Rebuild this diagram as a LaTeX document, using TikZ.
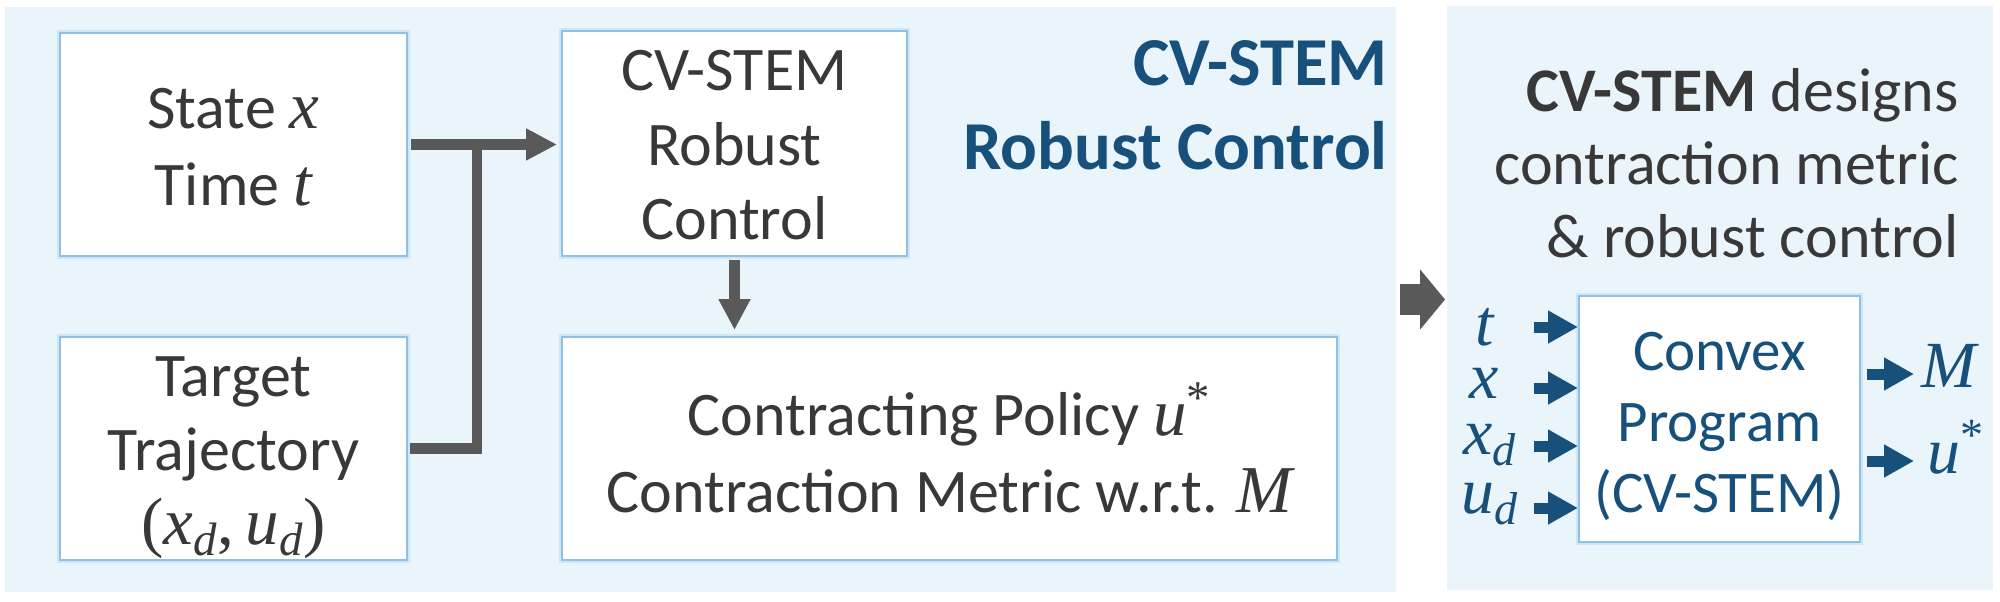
\RequirePackage{fix-cm}
\documentclass[tikz,border=0pt]{standalone}
\usepackage{fontspec}
\setmainfont{Carlito}
\newfontfamily\mvfont{Liberation Serif}[Scale=1.08]
\newcommand{\mv}[1]{{\mvfont\itshape #1}}
\newcommand{\mup}[1]{{\mvfont #1}}
\usetikzlibrary{arrows.meta}
\definecolor{panelbg}{HTML}{EAF4FB}
\definecolor{boxline}{HTML}{8FC0E8}
\definecolor{boxglow}{HTML}{CFE6F7}
\definecolor{txt}{HTML}{383838}
\definecolor{dblue}{HTML}{17507A}
\definecolor{agray}{HTML}{595959}
\tikzset{
  panel/.style={fill=panelbg, draw=none, inner sep=0pt, outer sep=0pt},
  wbox/.style={fill=white, draw=boxline, line width=1pt, inner sep=0pt, outer sep=0pt,
    preaction={draw=boxglow, line width=3pt}},
  btext/.style={align=center, inner sep=0pt, text=txt, font=\fontsize{31}{38.5}\selectfont},
  ttl/.style={anchor=base east, inner sep=0pt, text=dblue, font=\fontsize{34.3}{40}\selectfont\bfseries},
  rttl/.style={anchor=base east, inner sep=0pt, text=txt, font=\fontsize{31}{36}\selectfont},
  mlab/.style={anchor=base, inner sep=0pt, text=dblue, font=\fontsize{30.5}{35}\selectfont},
  gline/.style={draw=agray, line width=5.25pt},
  garrow/.style={gline, -{Triangle[length=15.5pt,width=15pt]}},
  barrow/.style={draw=dblue, line width=5.5pt, -{Triangle[length=15pt,width=15.5pt]}},
  bigarrow/.style={draw=agray, line width=15.5pt, -{Triangle[length=12.5pt,width=29.5pt]}}
}
\begin{document}
\begin{tikzpicture}[x=0.5pt,y=-0.5pt]
\useasboundingbox (0,0) rectangle (2000,601);
% panels
\node[panel, minimum width=695.5pt, minimum height=292.5pt] (lp) at (700.5,299.5) {};
\node[panel, minimum width=273pt, minimum height=292pt] (rp) at (1720,298) {};
% boxes
\node[wbox, minimum width=173.5pt, minimum height=111.5pt] (st) at (233.5,144.5) {};
\node[wbox, minimum width=173.5pt, minimum height=111.5pt] (tg) at (233.5,448.5) {};
\node[wbox, minimum width=172.5pt, minimum height=112.5pt] (cv) at (734.5,143.5) {};
\node[wbox, minimum width=387.5pt, minimum height=111.5pt] (cp) at (949.5,448.5) {};
\node[wbox, minimum width=140.5pt, minimum height=123pt] (cx) at (1719.5,419) {};
% box texts
\node[btext] (stt) at (233.5,147.5) {State \mv{x}\\Time \mv{t}};
\node[btext, font=\fontsize{31}{37}\selectfont] (tgt) at (233.5,458) {Target\\Trajectory\\\mup{(}\mv{x}\textsubscript{\mv{d}}\mup{,\,}\mv{u}\textsubscript{\mv{d}}\mup{)}};
\node[btext, font=\fontsize{31}{37.25}\selectfont] (cvt) at (734.5,145.5) {CV-STEM\\Robust\\Control};
\node[btext] (cpt) at (949.5,448) {Contracting Policy \mv{u}\textsuperscript{\mup{*}}\\Contraction Metric w.r.t. \mv{M}};
\node[btext, text=dblue, font=\fontsize{29.5}{35.5}\selectfont] (cxt) at (1719.5,426) {Convex\\Program\\(CV-STEM)};
% titles
\node[ttl] (t1) at (1388,85) {CV-STEM};
\node[ttl] (t2) at (1388,169) {Robust Control};
\node[rttl] (r1) at (1959,111) {\textbf{CV-STEM} designs};
\node[rttl] (r2) at (1959,184) {contraction metric};
\node[rttl] (r3) at (1959,257) {\& robust control};
% math labels
\node[mlab] (lt) at (1485,345) {\mv{t}};
\node[mlab] (lx) at (1484,398) {\mv{x}};
\node[mlab] (lxd) at (1490,454) {\mv{x}\textsubscript{\mv{d}}};
\node[mlab] (lud) at (1490,513) {\mv{u}\textsubscript{\mv{d}}};
\node[mlab, anchor=base west] (lM) at (1921,387) {\mv{M}};
\node[mlab, anchor=base west] (lu) at (1927,473) {\mv{u}\textsuperscript{\mup{*}}};
% gray connectors
\coordinate (j) at (477,144.5);
\draw[gline, shorten <=1.5pt] (tg.east) -| (j);
\draw[garrow, shorten <=2pt, shorten >=2.5pt] (st.east) -- (st.east -| cv.west);
\draw[garrow, shorten <=2pt, shorten >=3.5pt] (cv.south) -- (cv.south |- cp.north);
\draw[bigarrow, shorten <=2pt, shorten >=1pt] (lp.east) -- (lp.east -| rp.west);
% blue inputs
\coordinate (it) at (1534,327);
\coordinate (ix) at (1534,388);
\coordinate (ixd) at (1534,446);
\coordinate (iud) at (1534,508);
\draw[barrow, shorten >=0.5pt] (it) -- (it -| cx.west);
\draw[barrow, shorten >=0.5pt] (ix) -- (ix -| cx.west);
\draw[barrow, shorten >=0.5pt] (ixd) -- (ixd -| cx.west);
\draw[barrow, shorten >=0.5pt] (iud) -- (iud -| cx.west);
% blue outputs
\coordinate (oM) at (1914,374);
\coordinate (ou) at (1914,461);
\draw[barrow, shorten <=3.5pt] (oM -| cx.east) -- (oM);
\draw[barrow, shorten <=3.5pt] (ou -| cx.east) -- (ou);
\end{tikzpicture}
\end{document}
